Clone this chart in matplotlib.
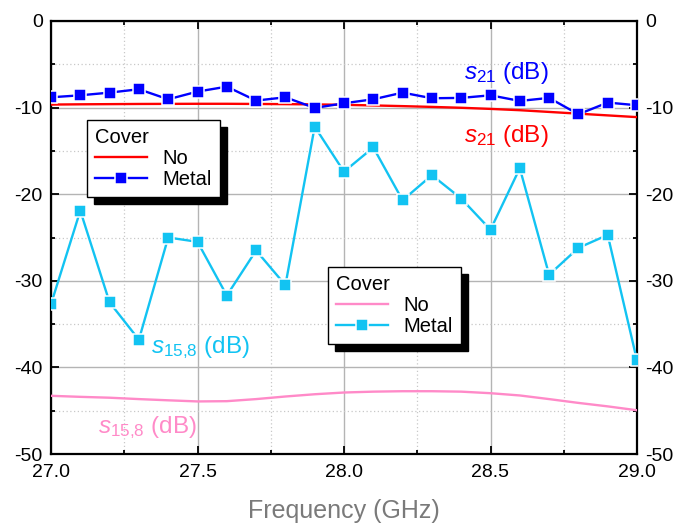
import matplotlib
matplotlib.use("Agg")
from matplotlib import pyplot as plt
from matplotlib.patches import Rectangle
from matplotlib.ticker import MultipleLocator, FormatStrFormatter

plt.rcParams['font.family'] = ['Liberation Sans', 'DejaVu Sans']
plt.rcParams['mathtext.fontset'] = 'custom'
plt.rcParams['mathtext.rm'] = 'Liberation Sans'
plt.rcParams['mathtext.it'] = 'Liberation Sans:italic'
plt.rcParams['axes.unicode_minus'] = False

# Frequency sweep (GHz)
freq = [27.0, 27.1, 27.2, 27.3, 27.4, 27.5, 27.6, 27.7, 27.8, 27.9, 28.0,
        28.1, 28.2, 28.3, 28.4, 28.5, 28.6, 28.7, 28.8, 28.9, 29.0]

# s21 (dB), no cover
s21_no = [-9.65, -9.62, -9.60, -9.58, -9.57, -9.56, -9.56, -9.58, -9.60, -9.63, -9.68,
          -9.75, -9.83, -9.92, -10.02, -10.15, -10.30, -10.50, -10.70, -10.90, -11.10]
# s21 (dB), metal cover
s21_metal = [-8.81, -8.58, -8.27, -7.88, -9.04, -8.15, -7.58, -9.19, -8.81, -10.04, -9.50,
             -9.04, -8.27, -8.92, -8.88, -8.58, -9.23, -8.88, -10.77, -9.42, -9.73]
# s15,8 (dB), no cover
s158_no = [-43.28, -43.40, -43.50, -43.66, -43.80, -43.93, -43.90, -43.66, -43.36, -43.10, -42.90,
           -42.80, -42.75, -42.75, -42.80, -42.98, -43.24, -43.66, -44.10, -44.50, -44.95]
# s15,8 (dB), metal cover
s158_metal = [-32.7, -21.9, -32.5, -36.8, -25.0, -25.5, -31.7, -26.5, -30.5, -12.2, -17.4,
              -14.6, -20.7, -17.8, -20.5, -24.1, -17.0, -29.3, -26.2, -24.7, -39.2]

RED = '#FF0000'
BLUE = '#0000FF'
CYAN = '#12C3F2'
PINK = '#FF8AC8'

W, H = 674, 525
fig = plt.figure(figsize=(W / 100, H / 100), dpi=100)
ax = fig.add_axes([51 / W, 1 - 454 / H, (637 - 51) / W, (454 - 21) / H])

line_kw = dict(lw=1.7)
mk_kw = dict(marker='s', markersize=8.6, markeredgecolor='white', markeredgewidth=1.1)

l_no, = ax.plot(freq, s21_no, color=RED, zorder=3, **line_kw)
l_metal, = ax.plot(freq, s21_metal, color=BLUE, zorder=4, **line_kw, **mk_kw)
l2_no, = ax.plot(freq, s158_no, color=PINK, zorder=3, **line_kw)
l2_metal, = ax.plot(freq, s158_metal, color=CYAN, zorder=4, **line_kw, **mk_kw)

ax.set_xlim(27.0, 29.0)
ax.set_ylim(-50, 0)
ax.xaxis.set_major_locator(MultipleLocator(0.5))
ax.xaxis.set_minor_locator(MultipleLocator(0.25))
ax.yaxis.set_major_locator(MultipleLocator(10))
ax.yaxis.set_minor_locator(MultipleLocator(5))
ax.xaxis.set_major_formatter(FormatStrFormatter('%.1f'))

ax.grid(which='major', color='#B4B4B4', lw=1.0, ls='-')
ax.grid(which='minor', color='#C8C8C8', lw=0.9, ls=(0, (1, 2)))
ax.set_axisbelow(True)

for sp in ax.spines.values():
    sp.set_linewidth(1.6)
ax.tick_params(which='both', direction='in', top=True, right=True,
               labelright=True, labelsize=14, width=1.3)
ax.tick_params(axis='y', pad=6)
ax.tick_params(axis='x', pad=7)
ax.tick_params(which='major', length=6)
ax.tick_params(which='minor', length=3)

ax.set_xlabel('Frequency (GHz)', fontsize=18, color='#7A7A7A', labelpad=13)

# curve labels
lab_kw = dict(fontsize=17.5, va='center')
ax.text(28.41, -6.0, r'$s_{21}$ (dB)', color=BLUE, **lab_kw)
ax.text(28.41, -13.3, r'$s_{21}$ (dB)', color=RED, **lab_kw)
ax.text(27.34, -37.7, r'$s_{15{,}8}$ (dB)', color=CYAN, **lab_kw)
ax.text(27.16, -46.9, r'$s_{15{,}8}$ (dB)', color=PINK, **lab_kw)


def make_legend(handles, anchor):
    leg = ax.legend(handles, ['No', 'Metal'], title='Cover', loc='upper left',
                    bbox_to_anchor=(anchor[0] / W, 1 - anchor[1] / H),
                    bbox_transform=fig.transFigure, borderaxespad=0,
                    fontsize=14.5, title_fontsize=14.5, alignment='left',
                    fancybox=False, framealpha=1, edgecolor='black',
                    handlelength=2.6, handletextpad=0.75, borderpad=0.4,
                    labelspacing=0.1, numpoints=1)
    leg.get_frame().set_linewidth(1.0)
    return leg


leg1 = make_legend([l_no, l_metal], (87, 120))
ax.add_artist(leg1)
leg2 = make_legend([l2_no, l2_metal], (328, 267))

# drop shadows behind the legend boxes
fig.canvas.draw()
for leg in (leg1, leg2):
    bb = leg.get_window_extent().transformed(fig.transFigure.inverted())
    ax.add_patch(Rectangle((bb.x0 + 7 / W, bb.y0 - 7 / H), bb.width, bb.height,
                           transform=fig.transFigure, color='black',
                           zorder=4.9, clip_on=False))

fig.savefig('out.png', dpi=100)
